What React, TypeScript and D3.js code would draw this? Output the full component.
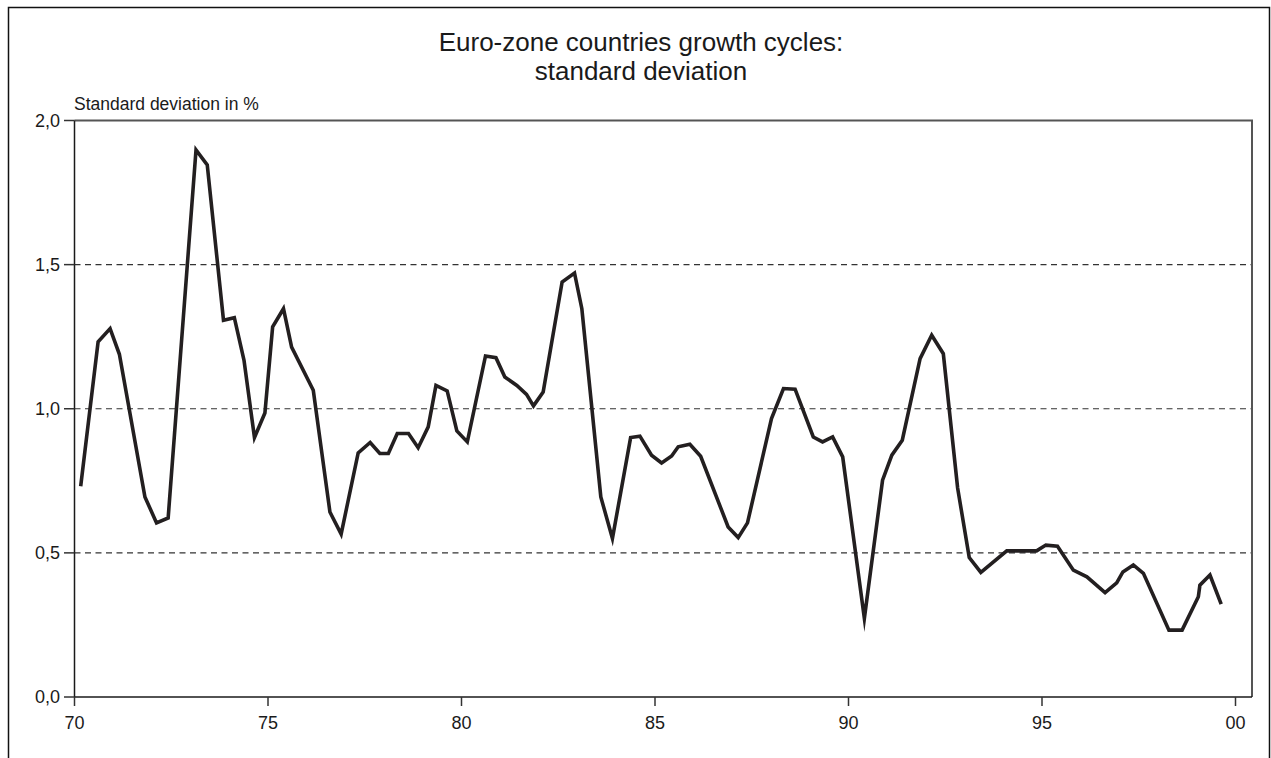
import React from "react";
import * as d3 from "d3";

const title1 = "Euro-zone countries growth cycles:";
const title2 = "standard deviation";
const yLabel = "Standard deviation in %";

const xTicks = [1970, 1975, 1980, 1985, 1990, 1995, 2000];
const xTickLabels = ["70", "75", "80", "85", "90", "95", "00"];
const yTicks = [0, 0.5, 1.0, 1.5, 2.0];
const yTickLabels = ["0,0", "0,5", "1,0", "1,5", "2,0"];
const gridValues = [0.5, 1.0, 1.5];

const dates = [
  1970.16, 1970.61, 1970.92, 1971.16, 1971.82, 1972.12, 1972.42, 1973.14, 1973.43, 1973.85,
  1974.13, 1974.38, 1974.65, 1974.92, 1975.12, 1975.40, 1975.61, 1976.17, 1976.60, 1976.89,
  1977.33, 1977.64, 1977.89, 1978.11, 1978.34, 1978.63, 1978.88, 1979.14, 1979.34, 1979.63,
  1979.88, 1980.15, 1980.62, 1980.89, 1981.12, 1981.43, 1981.68, 1981.86, 1982.11, 1982.60,
  1982.92, 1983.11, 1983.60, 1983.90, 1984.37, 1984.61, 1984.91, 1985.17, 1985.43, 1985.60,
  1985.90, 1986.18, 1986.89, 1987.15, 1987.39, 1988.01, 1988.32, 1988.62, 1989.09, 1989.33,
  1989.59, 1989.85, 1990.41, 1990.88, 1991.12, 1991.39, 1991.85, 1992.15, 1992.45, 1992.82,
  1993.12, 1993.42, 1994.09, 1994.86, 1995.10, 1995.40, 1995.81, 1996.16, 1996.63, 1996.93,
  1997.09, 1997.36, 1997.62, 1998.28, 1998.62, 1999.04, 1999.08, 1999.34, 1999.63,
];
const values = [
  0.731, 1.232, 1.278, 1.189, 0.694, 0.604, 0.621, 1.898, 1.846, 1.307,
  1.316, 1.168, 0.900, 0.985, 1.284, 1.347, 1.214, 1.064, 0.642, 0.565,
  0.847, 0.883, 0.845, 0.845, 0.914, 0.914, 0.865, 0.937, 1.081, 1.062,
  0.923, 0.885, 1.183, 1.177, 1.110, 1.081, 1.050, 1.010, 1.058, 1.440,
  1.471, 1.347, 0.694, 0.550, 0.900, 0.905, 0.839, 0.812, 0.836, 0.868,
  0.877, 0.835, 0.590, 0.553, 0.604, 0.966, 1.070, 1.068, 0.902, 0.885,
  0.902, 0.833, 0.273, 0.752, 0.839, 0.891, 1.174, 1.255, 1.191, 0.725,
  0.484, 0.432, 0.507, 0.507, 0.527, 0.523, 0.440, 0.417, 0.362, 0.396,
  0.434, 0.458, 0.429, 0.232, 0.232, 0.348, 0.388, 0.423, 0.322,
];

const W = 1271;
const H = 758;
const plotLeft = 74.5;
const plotTop = 120.5;
const plotBottom = 697;
const plotRight = 1252;

export default function App() {
  const x = d3.scaleLinear().domain([1970, 2000]).range([plotLeft, 1235.5]);
  const y = d3.scaleLinear().domain([0, 2]).range([plotBottom, plotTop]);
  const points = dates.map((d, i) => [d, values[i]] as [number, number]);
  const line = d3
    .line<[number, number]>()
    .x((d) => x(d[0]))
    .y((d) => y(d[1]));
  const font = "'Liberation Sans', Arial, Helvetica, sans-serif";

  return (
    <svg
      width={W}
      height={H}
      style={{ position: "absolute", left: 0, top: 0, background: "#fff" }}
      fontFamily={font}
    >
      <rect x={0} y={0} width={W} height={H} fill="#fff" />
      {/* outer frame */}
      <path
        d={`M8.5,${H + 2} V7.5 H1269.5 V${H + 2}`}
        fill="none"
        stroke="#111"
        strokeWidth={1.5}
      />
      {/* title */}
      <text x={641} y={51} textAnchor="middle" fontSize={26} fill="#1a1a1a">
        {title1}
      </text>
      <text x={641} y={80} textAnchor="middle" fontSize={26} fill="#1a1a1a">
        {title2}
      </text>
      <text x={74} y={110} fontSize={17.5} fill="#1a1a1a">
        {yLabel}
      </text>

      {/* grid lines */}
      {gridValues.map((v) => (
        <line
          key={"g" + v}
          x1={plotLeft}
          x2={plotRight}
          y1={y(v)}
          y2={y(v)}
          stroke="#333"
          strokeWidth={1.2}
          strokeDasharray="6,4.5"
        />
      ))}

      {/* top and right border */}
      <path
        d={`M${plotLeft},${plotTop} H${plotRight} V${plotBottom}`}
        fill="none"
        stroke="#555"
        strokeWidth={2}
      />
      {/* axes */}
      <line x1={plotLeft} x2={plotRight} y1={plotBottom} y2={plotBottom} stroke="#1a1a1a" strokeWidth={1.5} />
      <line x1={plotLeft} x2={plotLeft} y1={plotTop} y2={plotBottom} stroke="#1a1a1a" strokeWidth={1.5} />

      {/* y ticks */}
      {yTicks.map((v, i) => (
        <g key={"y" + v}>
          <line x1={64} x2={plotLeft} y1={y(v)} y2={y(v)} stroke="#333" strokeWidth={1.5} />
          <text x={60} y={y(v) + 6} textAnchor="end" fontSize={18} fill="#1a1a1a">
            {yTickLabels[i]}
          </text>
        </g>
      ))}

      {/* x ticks */}
      {xTicks.map((v, i) => (
        <g key={"x" + v}>
          <line x1={x(v)} x2={x(v)} y1={plotBottom} y2={plotBottom + 9} stroke="#333" strokeWidth={1.5} />
          <text x={x(v)} y={729} textAnchor="middle" fontSize={18} fill="#1a1a1a">
            {xTickLabels[i]}
          </text>
        </g>
      ))}

      {/* data line */}
      <path
        d={line(points) || ""}
        fill="none"
        stroke="#231f20"
        strokeWidth={3.6}
        strokeLinejoin="miter"
        strokeMiterlimit={10}
      />
    </svg>
  );
}
